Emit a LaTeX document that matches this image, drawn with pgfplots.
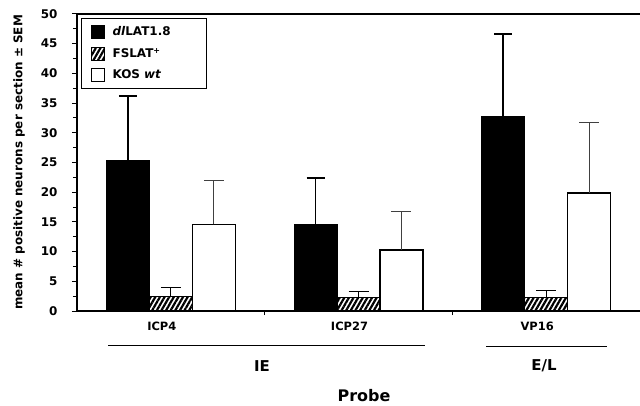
\documentclass[border=0pt]{standalone}
\usepackage{fontspec}
\setmainfont{DejaVu Sans}
\usepackage{pgfplots}
\usepackage{pgfplotstable}
\pgfplotsset{compat=1.18}
\usetikzlibrary{patterns,patterns.meta}
\newcommand\lab{\bfseries\fontsize{11.5}{13}\selectfont}
\newcommand\biglab{\bfseries\fontsize{15}{17}\selectfont}
\pgfplotstableread{
x dl dlerr fs fserr kos koserr
0 25.4 10.8 2.5 1.5 14.6 7.3
1 14.6 7.8 2.2 1.1 10.3 6.4
2 32.8 13.8 2.3 1.1 19.9 11.8
}\data
\def\sh{0.2291}
\begin{document}
\begin{tikzpicture}
\begin{axis}[
  scale only axis, width=563bp, height=297bp,
  xmin=-0.5, xmax=2.5, ymin=0, ymax=50,
  axis x line*=bottom, axis y line*=left,
  axis line style={line width=1.5bp},
  clip=false,
  ytick={0,5,...,50}, minor y tick num=1,
  tick align=outside, major tick length=5bp, minor tick length=4bp,
  tick style={line width=1bp, black},
  xtick={0,1,2}, xticklabels={ICP4,ICP27,VP16},
  xtick style={draw=none},
  extra x ticks={0.5,1.5}, extra x tick labels={},
  extra x tick style={xtick style={draw=black, line width=1bp}, major tick length=4bp},
  /pgf/number format/assume math mode=true,
  yticklabel style={font=\bfseries\fontsize{12}{14}\selectfont, xshift=-11bp},
  xticklabel style={font=\lab, xshift=-9bp, yshift=-2bp},
  ylabel={mean \# positive neurons per section ± SEM},
  ylabel style={font=\bfseries\fontsize{12}{14}\selectfont, at={(axis description cs:-0.1030,0.5)}, anchor=center},
  legend style={at={(axis description cs:0.0071,0.9865)}, anchor=north west, draw=black, line width=1.2bp,
    font=\bfseries\fontsize{12}{14}\selectfont, row sep=7bp, inner xsep=9bp, inner ysep=6bp,
    nodes={text width=77bp, align=left, inner xsep=8bp}},
  legend cell align=left,
  legend image code/.code={\draw[#1, line width=1bp] (0bp,-6.5bp) rectangle (13bp,6.5bp);},
]
\addplot[ybar, bar width=43bp, bar shift=0bp, fill=black, draw=black, line width=1bp,
  error bars/.cd, y dir=plus, y explicit, error mark=|,
  error bar style={line width=1.5bp, draw=black},
  error mark options={mark size=9bp, line width=1.5bp, draw=black}]
  table[x expr=\thisrow{x}-\sh, y=dl, y error=dlerr]{\data};
\addlegendentry{\textit{dl}LAT1.8}
\addplot[ybar, bar width=43bp, bar shift=0bp, fill=white, draw=black, line width=1bp,
  pattern={Lines[angle=60,distance=4bp,line width=2.2bp]}, pattern color=black,
  error bars/.cd, y dir=plus, y explicit, error mark=|,
  error bar style={line width=1.2bp, draw=black},
  error mark options={mark size=10bp, line width=1.2bp, draw=black}]
  table[x=x, y=fs, y error=fserr]{\data};
\addlegendentry{FSLAT\textsuperscript{+}}
\addplot[ybar, bar width=43bp, bar shift=0bp, fill=white, draw=black, line width=1.5bp,
  error bars/.cd, y dir=plus, y explicit, error mark=|,
  error bar style={line width=1bp, draw=black!75},
  error mark options={mark size=10bp, line width=1bp, draw=black!75}]
  table[x expr=\thisrow{x}+\sh, y=kos, y error=koserr]{\data};
\addlegendentry{KOS \textit{wt}}
\end{axis}
\draw[line width=1.5bp] (0,297bp) -- (563bp,297bp);
\draw[line width=1bp] (31bp,-34bp) -- (348bp,-34bp);
\draw[line width=1bp] (409bp,-35bp) -- (530bp,-35bp);
\node[font=\biglab] at (185bp,-55bp) {IE};
\node[font=\biglab] at (467bp,-55bp) {E/L};
\node[font=\bfseries\fontsize{16}{18}\selectfont] at (287bp,-85bp) {Probe};
\pgfresetboundingbox
\path (-77bp,-95bp) rectangle (563bp,311bp);
\end{tikzpicture}
\end{document}
